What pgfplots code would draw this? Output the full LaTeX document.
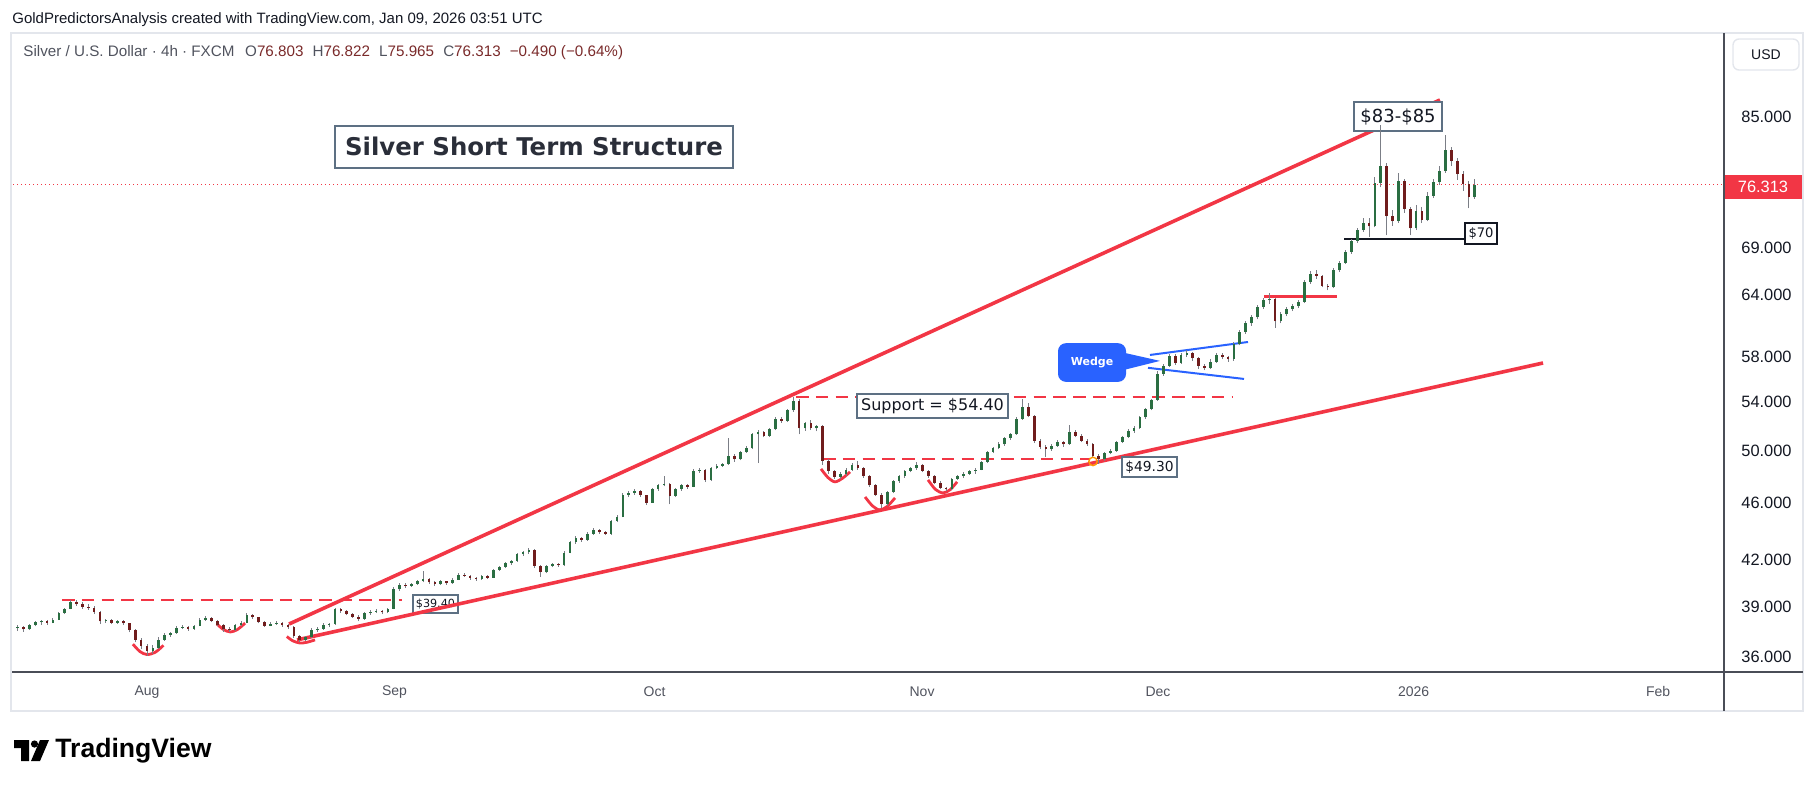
\documentclass[border=0pt]{standalone}
\usepackage{fontspec}
\usepackage{pgfplots}
\usepackage{pgfplotstable}
\pgfplotsset{compat=1.18}

\newfontfamily\uifont{Liberation Sans}
\newfontfamily\notefont{DejaVu Sans}

\definecolor{tvred}{HTML}{F23645}
\definecolor{tvblue}{HTML}{2962FF}
\definecolor{tvtext}{HTML}{131722}
\definecolor{tvdark}{HTML}{2A2E39}
\definecolor{tvgray}{HTML}{50535E}
\definecolor{slate}{HTML}{5D7083}
\definecolor{upbody}{HTML}{2A6E42}
\definecolor{downbody}{HTML}{701C1C}
\definecolor{wick}{HTML}{7B7E86}
\definecolor{panelline}{HTML}{E3E6EC}
\definecolor{scaleline}{HTML}{4A4D57}
\definecolor{ohlcval}{HTML}{7A2A2A}
\definecolor{touch}{HTML}{FF9800}

% Silver / USD, half-day candles (t = trading days from 1 Aug 2025)
\pgfplotstableread{
t o h l c
-11.0 37.70 37.92 37.52 37.75
-10.5 37.75 37.85 37.48 37.62
-10.0 37.62 37.95 37.58 37.88
-9.5 37.88 38.12 37.80 38.05
-9.0 38.05 38.22 37.92 38.12
-8.5 38.12 38.18 37.90 38.02
-8.0 38.02 38.30 37.98 38.22
-7.5 38.22 38.70 38.18 38.62
-7.0 38.62 38.95 38.55 38.88
-6.5 38.88 39.45 38.85 39.32
-6.0 39.32 39.42 39.05 39.15
-5.5 39.15 39.28 38.90 39.02
-5.0 39.02 39.18 38.82 38.95
-4.5 38.95 39.05 38.55 38.68
-4.0 38.68 38.72 37.95 38.10
-3.5 38.10 38.28 38.00 38.18
-3.0 38.18 38.25 37.95 38.02
-2.5 38.02 38.22 37.96 38.12
-2.0 38.12 38.20 37.88 37.98
-1.5 37.98 38.02 37.45 37.58
-1.0 37.58 37.62 36.85 37.00
-0.5 37.00 37.10 36.45 36.62
0.0 36.62 36.75 36.08 36.35
0.5 36.35 36.70 36.20 36.55
1.0 36.55 37.15 36.50 37.02
1.5 37.02 37.40 36.95 37.30
2.0 37.30 37.48 37.18 37.42
2.5 37.42 37.82 37.38 37.72
3.0 37.72 37.90 37.62 37.78
3.5 37.78 37.85 37.55 37.65
4.0 37.65 37.92 37.60 37.85
4.5 37.85 38.32 37.80 38.22
5.0 38.22 38.42 38.12 38.30
5.5 38.30 38.38 38.05 38.15
6.0 38.15 38.20 37.80 37.90
6.5 37.90 37.95 37.50 37.62
7.0 37.62 37.78 37.48 37.58
7.5 37.58 37.95 37.55 37.88
8.0 37.88 38.10 37.82 38.02
8.5 38.02 38.62 37.98 38.48
9.0 38.48 38.55 38.25 38.35
9.5 38.35 38.40 37.98 38.05
10.0 38.05 38.12 37.78 37.85
10.5 37.85 38.05 37.80 37.96
11.0 37.96 38.10 37.88 38.02
11.5 38.02 38.08 37.78 37.86
12.0 37.86 37.95 37.65 37.75
12.5 37.75 37.80 37.12 37.22
13.0 37.22 37.30 36.88 36.98
13.5 36.98 37.25 36.92 37.15
14.0 37.15 37.68 37.10 37.60
14.5 37.60 37.75 37.50 37.66
15.0 37.66 37.98 37.60 37.90
15.5 37.90 38.00 37.78 37.95
16.0 37.95 38.95 37.92 38.85
16.5 38.85 38.92 38.62 38.72
17.0 38.72 38.80 38.48 38.55
17.5 38.55 38.62 38.30 38.40
18.0 38.40 38.48 38.12 38.28
18.5 38.28 38.68 38.22 38.60
19.0 38.60 38.78 38.52 38.70
19.5 38.70 38.85 38.62 38.76
20.0 38.76 38.82 38.55 38.66
20.5 38.66 38.95 38.60 38.88
21.0 38.88 40.25 38.85 40.10
21.5 40.10 40.50 40.02 40.40
22.0 40.40 40.48 40.18 40.30
22.5 40.30 40.52 40.25 40.45
23.0 40.45 40.70 40.38 40.62
23.5 40.62 41.30 40.55 40.78
24.0 40.78 40.85 40.45 40.55
24.5 40.55 40.62 40.30 40.42
25.0 40.42 40.68 40.36 40.60
25.5 40.60 40.66 40.40 40.48
26.0 40.48 40.80 40.44 40.72
26.5 40.72 41.18 40.68 41.05
27.0 41.05 41.12 40.88 40.98
27.5 40.98 41.02 40.72 40.84
28.0 40.84 40.92 40.66 40.78
28.5 40.78 41.02 40.72 40.95
29.0 40.95 41.00 40.76 40.85
29.5 40.85 41.42 40.82 41.35
30.0 41.35 41.62 41.28 41.55
30.5 41.55 41.88 41.48 41.80
31.0 41.80 42.02 41.70 41.95
31.5 41.95 42.48 41.90 42.40
32.0 42.40 42.62 42.30 42.55
32.5 42.55 42.85 42.42 42.70
33.0 42.70 42.74 41.50 41.62
33.5 41.62 41.70 40.90 41.20
34.0 41.20 41.68 41.12 41.60
34.5 41.60 41.82 41.52 41.72
35.0 41.72 41.80 41.55 41.65
35.5 41.65 42.60 41.60 42.50
36.0 42.50 43.30 42.45 43.20
36.5 43.20 43.62 43.12 43.50
37.0 43.50 43.58 43.25 43.38
37.5 43.38 43.90 43.32 43.82
38.0 43.82 44.20 43.75 44.10
38.5 44.10 44.16 43.82 43.92
39.0 43.92 44.00 43.70 43.80
39.5 43.80 44.80 43.75 44.70
40.0 44.70 45.10 44.62 45.00
40.5 45.00 46.75 44.95 46.60
41.0 46.60 46.90 46.45 46.72
41.5 46.72 47.05 46.60 46.92
42.0 46.92 46.98 46.45 46.58
42.5 46.58 46.62 45.85 46.02
43.0 46.02 47.10 45.98 47.00
43.5 47.00 47.42 46.92 47.30
44.0 47.30 48.00 47.22 47.42
44.5 47.42 47.48 45.90 46.50
45.0 46.50 47.08 46.42 47.00
45.5 47.00 47.40 46.92 47.30
46.0 47.30 47.38 47.05 47.20
46.5 47.20 48.52 47.15 48.40
47.0 48.40 48.62 48.28 48.50
47.5 48.50 48.55 47.55 47.70
48.0 47.70 48.70 47.62 48.60
48.5 48.60 48.92 48.52 48.80
49.0 48.80 49.05 48.70 48.92
49.5 48.92 51.00 48.85 49.60
50.0 49.60 49.72 49.10 49.30
50.5 49.30 50.00 49.22 49.90
51.0 49.90 50.35 49.82 50.20
51.5 50.20 51.40 50.12 51.30
52.0 51.30 51.62 49.00 51.50
52.5 51.50 51.58 51.05 51.20
53.0 51.20 51.82 51.12 51.70
53.5 51.70 52.70 51.62 52.60
54.0 52.60 52.72 52.25 52.40
54.5 52.40 53.40 52.32 53.30
55.0 53.30 54.40 53.20 54.10
55.5 54.10 54.25 51.30 51.80
56.0 51.80 52.35 51.60 52.20
56.5 52.20 52.50 51.65 51.80
57.0 51.80 52.10 51.55 52.00
57.5 52.00 52.05 48.90 49.20
58.0 49.20 49.30 48.20 48.40
58.5 48.40 48.50 47.78 47.95
59.0 47.95 48.30 47.75 48.15
59.5 48.15 48.60 48.00 48.50
60.0 48.50 49.00 48.40 48.90
60.5 48.90 49.15 48.50 48.60
61.0 48.60 48.70 47.90 48.00
61.5 48.00 48.10 47.20 47.30
62.0 47.30 47.40 46.50 46.60
62.5 46.60 46.70 45.60 45.90
63.0 45.90 46.90 45.80 46.80
63.5 46.80 47.70 46.70 47.60
64.0 47.60 48.10 47.50 48.00
64.5 48.00 48.50 47.90 48.40
65.0 48.40 48.70 48.30 48.60
65.5 48.60 49.10 48.50 48.90
66.0 48.90 48.98 48.30 48.40
66.5 48.40 48.50 47.90 48.00
67.0 48.00 48.10 47.40 47.50
67.5 47.50 47.60 47.00 47.10
68.0 47.10 47.20 46.85 47.00
68.5 47.00 47.90 46.95 47.80
69.0 47.80 48.10 47.70 48.00
69.5 48.00 48.30 47.85 48.20
70.0 48.20 48.50 48.10 48.40
70.5 48.40 48.60 48.20 48.50
71.0 48.50 49.20 48.45 49.10
71.5 49.10 50.00 49.00 49.90
72.0 49.90 50.30 49.80 50.20
72.5 50.20 50.65 50.10 50.50
73.0 50.50 51.10 50.40 51.00
73.5 51.00 51.45 50.85 51.30
74.0 51.30 52.70 51.25 52.60
74.5 52.60 54.30 52.50 53.60
75.0 53.60 53.90 52.70 52.80
75.5 52.80 52.90 50.60 50.80
76.0 50.80 50.95 50.10 50.30
76.5 50.30 50.45 49.50 50.10
77.0 50.10 50.55 50.00 50.40
77.5 50.40 50.85 50.30 50.70
78.0 50.70 50.80 50.30 50.50
78.5 50.50 52.10 50.45 51.50
79.0 51.50 51.65 51.05 51.20
79.5 51.20 51.30 50.65 50.80
80.0 50.80 50.90 50.35 50.50
80.5 50.50 50.60 49.50 49.60
81.0 49.60 49.70 48.95 49.30
81.5 49.30 49.90 49.20 49.80
82.0 49.80 50.10 49.70 50.00
82.5 50.00 50.80 49.90 50.70
83.0 50.70 51.20 50.60 51.10
83.5 51.10 51.70 51.00 51.60
84.0 51.60 51.95 51.45 51.80
84.5 51.80 52.80 51.70 52.70
85.0 52.70 53.50 52.60 53.40
85.5 53.40 54.30 53.30 54.20
86.0 54.20 56.70 54.10 56.50
86.5 56.50 57.40 56.30 57.20
87.0 57.20 58.30 57.10 58.10
87.5 58.10 58.30 57.30 57.50
88.0 57.50 58.40 57.40 58.20
88.5 58.20 58.70 58.00 58.40
89.0 58.40 58.50 57.70 57.90
89.5 57.90 58.00 56.90 57.20
90.0 57.20 57.40 56.80 57.00
90.5 57.00 57.80 56.90 57.60
91.0 57.60 58.40 57.50 58.20
91.5 58.20 58.40 57.80 58.00
92.0 58.00 58.10 57.60 57.80
92.5 57.80 59.40 57.70 59.20
93.0 59.20 60.60 59.10 60.40
93.5 60.40 61.40 60.20 61.20
94.0 61.20 62.00 61.00 61.80
94.5 61.80 63.00 61.60 62.80
95.0 62.80 63.70 62.60 63.50
95.5 63.50 64.20 63.10 63.60
96.0 63.60 63.70 60.80 61.40
96.5 61.40 62.30 61.20 62.10
97.0 62.10 62.80 61.90 62.60
97.5 62.60 63.10 62.40 62.90
98.0 62.90 63.50 62.70 63.30
98.5 63.30 65.60 63.20 65.40
99.0 65.40 66.50 65.20 66.20
99.5 66.20 66.60 65.70 66.00
100.0 66.00 66.10 64.80 65.00
100.5 65.00 65.20 64.50 64.80
101.0 64.80 66.80 64.70 66.60
101.5 66.60 67.60 66.40 67.40
102.0 67.40 68.80 67.30 68.60
102.5 68.60 70.00 68.40 69.80
103.0 69.80 71.20 69.60 71.00
103.5 71.00 72.40 70.80 71.80
104.0 71.80 72.40 70.20 71.40
104.5 71.40 77.20 71.30 76.50
105.0 76.50 83.90 76.00 78.60
105.5 78.60 79.00 70.40 72.60
106.0 72.60 73.30 71.50 72.00
106.5 72.00 77.80 71.80 76.80
107.0 76.80 77.00 73.00 73.40
107.5 73.40 73.60 70.40 71.20
108.0 71.20 73.90 71.00 73.20
108.5 73.20 73.60 71.80 72.20
109.0 72.20 75.40 72.00 75.00
109.5 75.00 77.00 74.70 76.60
110.0 76.60 78.60 76.30 78.00
110.5 78.00 82.60 77.80 80.60
111.0 80.60 81.00 78.60 79.20
111.5 79.20 79.60 76.90 77.60
112.0 77.60 78.00 75.60 76.40
112.5 76.40 76.80 73.50 74.80
113.0 74.80 77.00 74.60 76.313
}\silverbars

\newcommand\uifs[1]{\uifont\fontsize{#1}{#1}\selectfont}
\newcommand\notefs[1]{\notefont\fontsize{#1}{#1}\selectfont}

\begin{document}
\begin{tikzpicture}
\path[use as bounding box] (0pt,0pt) rectangle (907pt,-393.5pt);

\begin{axis}[
  at={(6.5pt,-17.5pt)}, anchor=north west,
  scale only axis, width=855.5pt, height=318.5pt,
  xmin=-11.404, xmax=134.21,
  ymode=log, ymin=35.16, ymax=96.82,
  axis line style={draw=none},
  tick style={draw=none}, major tick length=0pt,
  xtick={0,21.06,43.2,65.96,86.04,107.8,128.6},
  xticklabels={Aug,Sep,Oct,Nov,Dec,2026,Feb},
  xticklabel style={font=\uifs{7pt}, text=tvgray, anchor=center, inner sep=0pt, yshift=-10pt},
  ytick={36,39,42,46,50,54,58,64,69,85},
  yticklabels={36.000,39.000,42.000,46.000,50.000,54.000,58.000,64.000,69.000,85.000},
  yticklabel pos=right,
  yticklabel style={font=\uifs{8.2pt}, text=tvtext, anchor=west, inner sep=0pt, xshift=8.5pt},
]

% last price
\addplot[tvred, line width=0.5pt, dash pattern=on 0.6pt off 1.4pt, forget plot]
  coordinates {(-11.404,76.313) (134.21,76.313)};

% horizontal levels
\addplot[tvred, line width=1pt, dash pattern=on 6.3pt off 3.6pt, forget plot]
  coordinates {(-7.23,39.40) (21.70,39.40)};
\addplot[tvred, line width=1pt, dash pattern=on 6.3pt off 3.6pt, forget plot]
  coordinates {(55.23,54.40) (92.34,54.40)};
\addplot[tvred, line width=1pt, dash pattern=on 6.3pt off 3.6pt, forget plot]
  coordinates {(57.53,49.30) (80.26,49.30)};

\node[draw=slate, line width=0.7pt, fill=white, inner sep=0pt,
      minimum width=22.5pt, minimum height=9pt, text=tvtext, font=\notefs{5.6pt}]
  at (axis cs:24.55,39.18) {\$39.40};

% channel
\addplot[tvred, line width=1.8pt, forget plot] coordinates {(12.09,37.95) (110.04,87.32)};
\addplot[tvred, line width=1.8pt, forget plot] coordinates {(12.77,37.00) (118.81,57.47)};

% rounded bottoms
\addplot[tvred, line width=1.4pt, smooth, forget plot]
  coordinates {(-1.2,36.75) (-0.6,36.32) (0,36.15) (0.7,36.28) (1.4,36.68)};
\addplot[tvred, line width=1.4pt, smooth, forget plot]
  coordinates {(5.95,37.95) (6.5,37.62) (7.1,37.47) (7.7,37.62) (8.35,38.0)};
\addplot[tvred, line width=1.4pt, smooth, forget plot]
  coordinates {(11.9,37.2) (12.4,36.95) (13.0,36.82) (13.6,36.86) (14.3,37.0)};
\addplot[tvred, line width=1.4pt, smooth, forget plot]
  coordinates {(57.36,48.56) (57.95,47.9) (58.55,47.57) (59.2,47.85) (59.83,48.33)};
\addplot[tvred, line width=1.4pt, smooth, forget plot]
  coordinates {(61.11,46.44) (61.75,45.78) (62.38,45.49) (63.0,45.75) (63.66,46.37)};
\addplot[tvred, line width=1.4pt, smooth, forget plot]
  coordinates {(66.47,47.72) (67.1,47.0) (67.74,46.74) (68.35,46.98) (68.94,47.57)};

% December levels
\addplot[tvred, line width=1.4pt, forget plot] coordinates {(95.1,63.9) (101.3,63.9)};
\addplot[tvtext, line width=1.3pt, forget plot] coordinates {(101.9,70) (112.2,70)};

% wedge
\addplot[tvblue, line width=1pt, forget plot] coordinates {(85.36,58.21) (93.70,59.42)};
\addplot[tvblue, line width=1pt, forget plot] coordinates {(85.19,57.03) (93.36,56.03)};
\fill[tvblue, rounded corners=4pt] (axis cs:77.53,59.31) rectangle (axis cs:83.32,55.77);
\fill[tvblue] (axis cs:83.0,58.45) -- (axis cs:86.21,57.66) -- (axis cs:83.0,56.80) -- cycle;
\node[text=white, font={\notefont\bfseries\fontsize{5.5pt}{5.5pt}\selectfont}] at (axis cs:80.43,57.52) {Wedge};

% text labels
\node[draw=slate, line width=1pt, fill=white, inner sep=0pt,
      minimum width=199pt, minimum height=21pt, text=tvdark,
      font={\notefont\bfseries\fontsize{12.2pt}{12.2pt}\selectfont}]
  at (axis cs:32.94,81.04) {Silver Short Term Structure};
\node[draw=slate, line width=0.8pt, fill=white, inner sep=0pt,
      minimum width=75.5pt, minimum height=12pt, text=tvtext, font=\notefs{8pt}]
  at (axis cs:66.85,53.68) {Support = \$54.40};
\node[draw=slate, line width=0.8pt, fill=white, inner sep=0pt,
      minimum width=27.5pt, minimum height=10pt, text=tvtext, font=\notefs{6.9pt}]
  at (axis cs:85.32,48.71) {\$49.30};
\node[draw=slate, line width=1pt, fill=white, inner sep=0pt,
      minimum width=44pt, minimum height=14.5pt, text=tvtext, font=\notefs{9pt}]
  at (axis cs:106.47,85.05) {\$83-\$85};
\node[draw=tvtext, line width=0.8pt, fill=white, inner sep=0pt,
      minimum width=16pt, minimum height=10.5pt, text=tvtext, font=\notefs{6.55pt}]
  at (axis cs:113.53,70.62) {\$70};

% candles: wicks, rising bodies, falling bodies
\addplot[draw=none, mark=none, forget plot,
  error bars/.cd, y dir=plus, y explicit, error mark=none,
  error bar style={draw=wick, solid, line width=0.5pt, line cap=butt}]
  table[x=t, y=l, y error plus expr={\thisrow{h}-\thisrow{l}}] {\silverbars};
\addplot[draw=none, mark=none, forget plot,
  error bars/.cd, y dir=plus, y explicit, error mark=none,
  error bar style={draw=upbody, solid, line width=1.35pt, line cap=butt}]
  table[x=t, y expr={ifthenelse(\thisrow{c}>=\thisrow{o},\thisrow{o},1)},
        y error plus expr={ifthenelse(\thisrow{c}>=\thisrow{o},\thisrow{c}-\thisrow{o},0)}] {\silverbars};
\addplot[draw=none, mark=none, forget plot,
  error bars/.cd, y dir=plus, y explicit, error mark=none,
  error bar style={draw=downbody, solid, line width=1.35pt, line cap=butt}]
  table[x=t, y expr={ifthenelse(\thisrow{c}<\thisrow{o},\thisrow{c},1)},
        y error plus expr={ifthenelse(\thisrow{c}<\thisrow{o},\thisrow{o}-\thisrow{c},0)}] {\silverbars};

% touch of the rising support
\draw[touch, line width=0.7pt] (axis cs:80.51,49.14) circle[radius=2.1pt];
\end{axis}

\begin{scope}[x=0.5pt,y=-0.5pt]
  % pane frame and scales
  \draw[panelline, line width=1pt] (11,33) rectangle (1803,711);
  \draw[scaleline, line width=0.6pt] (1724,33) -- (1724,711);
  \draw[scaleline, line width=0.6pt] (12,672) -- (1803,672);
  \draw[panelline, line width=0.7pt, rounded corners=3pt, fill=white] (1733,39) rectangle (1799,70);
  \node[font=\uifs{7pt}, text=tvtext] at (1766,54.5) {USD};
  \fill[tvred] (1725,175) rectangle (1802,199);
  \node[font=\uifs{8.2pt}, text=white] at (1763,187) {76.313};

  % header
  \node[anchor=west, inner sep=0pt, font=\uifs{7.5pt}, text=tvtext] at (12,20)
    {GoldPredictorsAnalysis created with TradingView.com, Jan 09, 2026 03:51 UTC};
  \node[anchor=west, inner sep=0pt, font=\uifs{7.6pt}, text=tvgray] at (23,53)
    {Silver / U.S. Dollar · 4h · FXCM\hspace{0.7em}O\textcolor{ohlcval}{76.803}\hspace{0.6em}H\textcolor{ohlcval}{76.822}\hspace{0.6em}L\textcolor{ohlcval}{75.965}\hspace{0.6em}C\textcolor{ohlcval}{76.313}\hspace{0.6em}\textcolor{ohlcval}{−0.490 (−0.64\%)}};

  % footer logo
  \fill[black] (14,740) -- (29,740) -- (29,761) -- (21,761) -- (21,748) -- (14,748) -- cycle;
  \fill[black] (34.5,744) circle[radius=3.6];
  \fill[black] (40,740) -- (49,740) -- (40,761) -- (31,761) -- cycle;
  \node[anchor=west, inner sep=0pt, font={\uifont\bfseries\fontsize{13.3pt}{13.3pt}\selectfont}, text=black] at (55,750.5) {TradingView};
\end{scope}
\end{tikzpicture}
\end{document}
